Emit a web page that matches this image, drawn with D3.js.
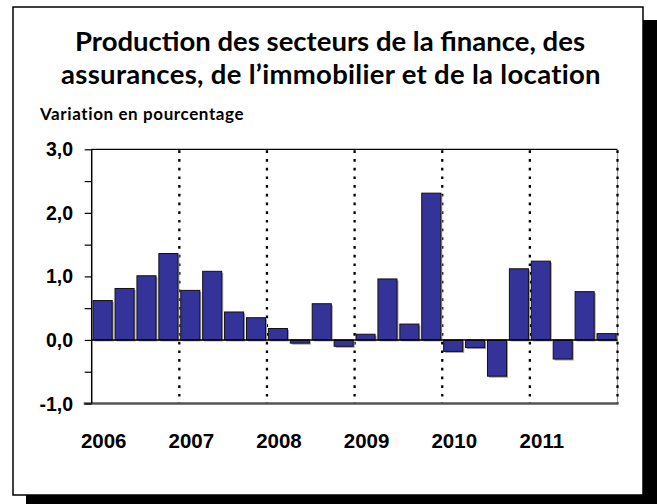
<!DOCTYPE html>
<html>
<head>
<meta charset="utf-8">
<script src="https://cdn.jsdelivr.net/npm/d3@7"></script>
<style>
  body { margin: 0; background: #fff; }
  svg { display: block; }
</style>
</head>
<body>
<div id="chart"></div>
<script>
let years = ['2006', '2007', '2008', '2009', '2010', '2011']
let quarters = ['T1', 'T2', 'T3', 'T4']
// variation trimestrielle en pourcentage, 2006T1 .. 2011T4
let values = [
  0.62, 0.81, 1.01, 1.36,
  0.78, 1.08, 0.44, 0.35,
  0.18, -0.05, 0.57, -0.10,
  0.09, 0.96, 0.25, 2.31,
  -0.18, -0.12, -0.57, 1.12,
  1.24, -0.30, 0.76, 0.10
]
let yTicks = [-1, 0, 1, 2, 3]
let yMinorTicks = [-1, -0.5, 0, 0.5, 1, 1.5, 2, 2.5, 3]

let W = 657, H = 504
let plot = { left: 91.7, right: 617.5, top: 149.3, bottom: 403.5 }

let periods = []
years.forEach(y => quarters.forEach(q => periods.push(y + q)))
let data = periods.map((p, i) => ({ id: p, value: values[i] }))

let svg = d3.select('#chart')
  .append('svg')
  .attr('width', W)
  .attr('height', H)

// cadre avec ombre
svg.append('rect')
  .attr('x', 26).attr('y', 20)
  .attr('width', W - 26).attr('height', H - 20)
  .attr('fill', '#000')
svg.append('rect')
  .attr('x', 13).attr('y', 7)
  .attr('width', 630).attr('height', 488)
  .attr('fill', '#fff')
  .attr('stroke', '#000')
  .attr('stroke-width', 1.5)

// titres
let titleFont = 'Lato, "Open Sans", sans-serif'
svg.append('text')
  .attr('x', 330).attr('y', 51)
  .attr('text-anchor', 'middle')
  .style('font-family', titleFont)
  .style('font-weight', 'bold')
  .style('font-size', '27.5px')
  .text('Production des secteurs de la finance, des')
svg.append('text')
  .attr('x', 331).attr('y', 84)
  .attr('text-anchor', 'middle')
  .style('font-family', titleFont)
  .style('font-weight', 'bold')
  .style('font-size', '27.5px')
  .style('letter-spacing', '0.3px')
  .text('assurances, de l\u2019immobilier et de la location')
svg.append('text')
  .attr('x', 40).attr('y', 120)
  .style('font-family', titleFont)
  .style('font-weight', 'bold')
  .style('font-size', '17px')
  .style('letter-spacing', '0.6px')
  .text('Variation en pourcentage')

let x = d3.scaleBand()
  .domain(periods)
  .range([plot.left, plot.right])
  .paddingInner(0.13)
  .paddingOuter(0.065)

let xYear = d3.scaleBand()
  .domain(years)
  .range([plot.left, plot.right])

let y = d3.scaleLinear()
  .domain([-1, 3])
  .range([plot.bottom, plot.top])

let container = svg.append('g')

// bordure haut / droite
container.append('line')
  .attr('x1', plot.left).attr('x2', plot.right)
  .attr('y1', plot.top).attr('y2', plot.top)
  .attr('stroke', '#000').attr('stroke-width', 1.2)
container.append('line')
  .attr('x1', plot.right).attr('x2', plot.right)
  .attr('y1', plot.top).attr('y2', plot.bottom)
  .attr('stroke', '#999').attr('stroke-width', 1.2)

// lignes pointillees entre les annees
let sepYears = years.slice(1).map(d => xYear(d)).concat([plot.right])
container.selectAll('line.sep')
  .data(sepYears)
  .join('line')
  .attr('class', 'sep')
  .attr('x1', d => d).attr('x2', d => d)
  .attr('y1', plot.top + 1).attr('y2', plot.bottom)
  .attr('stroke', '#000')
  .attr('stroke-width', 2.3)
  .attr('stroke-dasharray', '2.7,6')

// barres (ombre puis barre)
container.selectAll('rect.shadow')
  .data(data)
  .join('rect')
  .attr('class', 'shadow')
  .attr('x', d => x(d.id) + 1.5)
  .attr('y', d => Math.min(y(d.value), y(0)) + 1.5)
  .attr('width', x.bandwidth())
  .attr('height', d => Math.abs(y(d.value) - y(0)))
  .attr('fill', '#a0a0a0')
container.selectAll('rect.bar')
  .data(data)
  .join('rect')
  .attr('class', 'bar')
  .attr('x', d => x(d.id))
  .attr('y', d => Math.min(y(d.value), y(0)))
  .attr('width', x.bandwidth())
  .attr('height', d => Math.abs(y(d.value) - y(0)))
  .attr('fill', '#333399')
  .attr('stroke', '#111')
  .attr('stroke-width', 1)

// ligne zero
container.append('line')
  .attr('x1', plot.left).attr('x2', plot.right)
  .attr('y1', y(0)).attr('y2', y(0))
  .attr('stroke', '#000').attr('stroke-width', 1.5)

// axe du bas
container.append('line')
  .attr('x1', plot.left - 8).attr('x2', plot.right + 1)
  .attr('y1', plot.bottom).attr('y2', plot.bottom)
  .attr('stroke', '#555').attr('stroke-width', 2.5)

// axe y
let yAxis = d3.axisLeft(y)
  .tickValues(yMinorTicks)
  .tickSize(7)
  .tickFormat('')
let gy = container.append('g')
  .attr('transform', `translate(${plot.left},0)`)
  .call(yAxis)
gy.select('.domain')
  .attr('d', `M0,${plot.top}V${plot.bottom}`)
  .attr('stroke', '#000')
  .attr('stroke-width', 1.5)
gy.selectAll('.tick line').attr('stroke', '#000').attr('stroke-width', 1.2)

container.selectAll('text.ylab')
  .data(yTicks)
  .join('text')
  .attr('class', 'ylab')
  .attr('x', 73)
  .attr('y', d => y(d) + 7)
  .attr('text-anchor', 'end')
  .style('font-family', '"Liberation Sans", Arial, sans-serif')
  .style('font-weight', 'bold')
  .style('font-size', '19.5px')
  .text(d => d3.format('.1f')(d).replace('.', ',').replace('\u2212', '-'))

// etiquettes des annees
container.selectAll('text.xlab')
  .data(years)
  .join('text')
  .attr('class', 'xlab')
  .attr('x', d => xYear(d) + 12)
  .attr('y', 448)
  .attr('text-anchor', 'middle')
  .style('font-family', '"Liberation Sans", Arial, sans-serif')
  .style('font-weight', 'bold')
  .style('font-size', '20.5px')
  .text(d => d)
</script>
</body>
</html>
